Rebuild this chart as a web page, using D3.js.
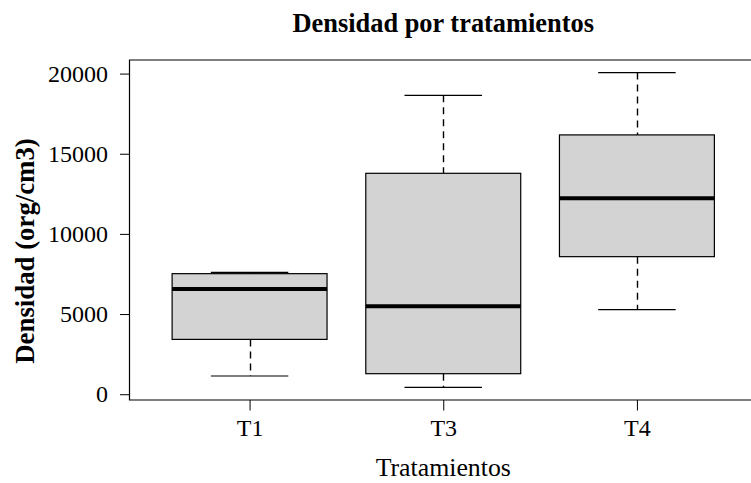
<!DOCTYPE html>
<html><head><meta charset="utf-8">
<script src="https://cdn.jsdelivr.net/npm/d3@7"></script>
<style>body{margin:0;background:#fff}svg{display:block}text{font-family:"Liberation Serif","Times New Roman",serif}</style>
</head><body><svg id="c" width="751" height="483"></svg>
<script>
const categories = ["T1", "T3", "T4"];
const mins    = [1135, 425, 5275];
const q1s     = [3420, 1280, 8580];
const medians = [6565, 5480, 12220];
const q3s     = [7520, 13780, 16175];
const maxs    = [7600, 18645, 20062];
const yTicks  = [0, 5000, 10000, 15000, 20000];
const title = "Densidad por tratamientos";
const xTitle = "Tratamientos";
const yTitle = "Densidad (org/cm3)";

const svg = d3.select("#c");
const L = 129.5, R = 757, T = 60, B = 400;
const x = d3.scaleLinear().domain([0.38, 3.62]).range([L, R]);
const lo = d3.min(mins), hi = d3.max(maxs), pad = (hi - lo) * 0.04;
const y = d3.scaleLinear().domain([lo - pad, hi + pad]).range([B, T]);
const bw = 0.8, cw = 0.4;

const data = categories.map((c, i) => ({c, i: i + 1, min: mins[i], q1: q1s[i], med: medians[i], q3: q3s[i], max: maxs[i]}));
const g = svg.append("g");
data.forEach(d => {
  const cx = Math.round(x(d.i)) + 0.5;
  g.append("line").attr("x1", cx).attr("x2", cx).attr("y1", y(d.max)).attr("y2", y(d.q3))
    .attr("stroke", "#000").attr("stroke-width", 1.4).attr("stroke-dasharray", "7,5");
  g.append("line").attr("x1", cx).attr("x2", cx).attr("y1", y(d.q1)).attr("y2", y(d.min))
    .attr("stroke", "#000").attr("stroke-width", 1.4).attr("stroke-dasharray", "7,5");
  [d.min, d.max].forEach(v => g.append("line")
    .attr("x1", x(d.i - cw / 2)).attr("x2", x(d.i + cw / 2)).attr("y1", y(v)).attr("y2", y(v))
    .attr("stroke", "#000").attr("stroke-width", 1.2));
  g.append("rect").attr("x", x(d.i - bw / 2)).attr("width", x(d.i + bw / 2) - x(d.i - bw / 2))
    .attr("y", y(d.q3)).attr("height", y(d.q1) - y(d.q3))
    .attr("fill", "#d3d3d3").attr("stroke", "#000").attr("stroke-width", 1.2);
  g.append("line").attr("x1", x(d.i - bw / 2)).attr("x2", x(d.i + bw / 2)).attr("y1", y(d.med)).attr("y2", y(d.med))
    .attr("stroke", "#000").attr("stroke-width", 4);
});

svg.append("path").attr("d", `M${R},${T}H${L}V${B}H${R}`).attr("fill", "none").attr("stroke", "#000").attr("stroke-width", 1.2);

const ya = svg.append("g").attr("transform", `translate(${L},0)`)
  .call(d3.axisLeft(y).tickValues(yTicks).tickSize(9.5).tickPadding(12).tickFormat(d3.format("d")));
ya.select(".domain").remove();
ya.selectAll("line").attr("stroke", "#000");
ya.selectAll("text").attr("font-size", 24).attr("fill", "#000").attr("font-family", "Liberation Serif");

const xa = svg.append("g").attr("transform", `translate(0,${B})`)
  .call(d3.axisBottom(x).tickValues(data.map(d => d.i)).tickSize(10.5).tickPadding(8).tickFormat((d, i) => categories[i]));
xa.select(".domain").remove();
xa.selectAll("line").attr("stroke", "#000");
xa.selectAll("text").attr("font-size", 24).attr("fill", "#000").attr("font-family", "Liberation Serif");

svg.append("text").attr("x", (L + R) / 2).attr("y", 32).attr("text-anchor", "middle")
  .attr("font-size", 26.4).attr("font-weight", "bold").text(title);
svg.append("text").attr("x", (L + R) / 2).attr("y", 476).attr("text-anchor", "middle")
  .attr("font-size", 25.8).text(xTitle);
svg.append("text").attr("transform", `translate(34,251) rotate(-90)`).attr("text-anchor", "middle")
  .attr("font-size", 26.8).attr("font-weight", "bold").text(yTitle);
</script></body></html>
